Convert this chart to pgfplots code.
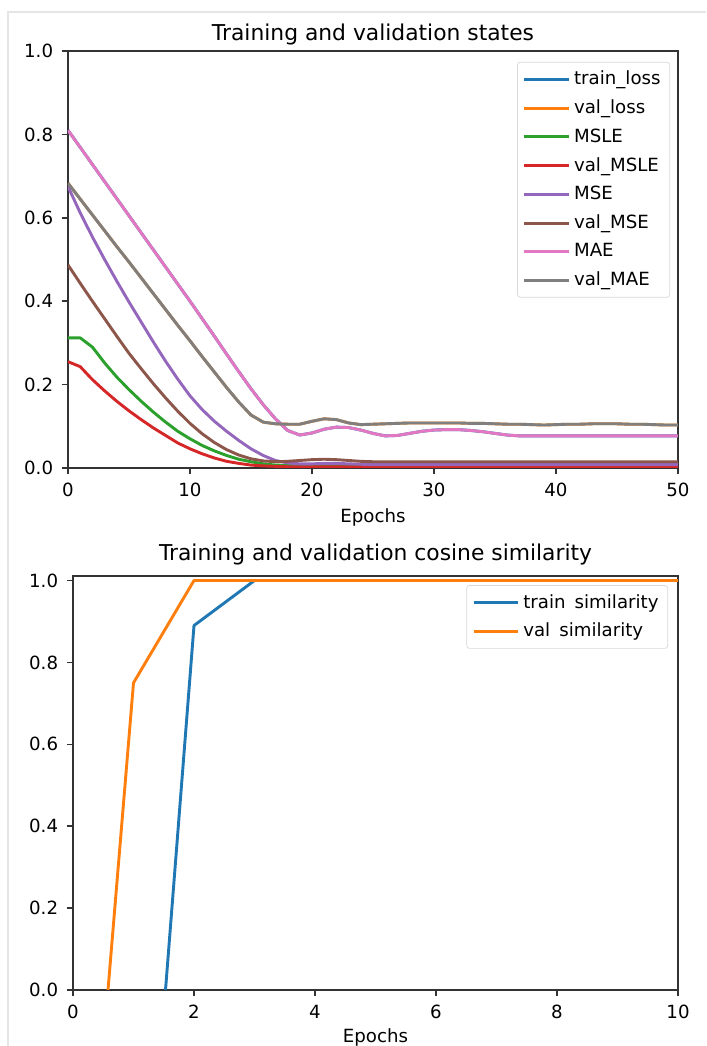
\documentclass[border=0pt]{standalone}
\usepackage{fontspec}
\setmainfont{DejaVu Sans}
\usepackage{pgfplots}
\pgfplotsset{compat=1.18}
\usepackage{pgfplotstable}

\definecolor{C0}{HTML}{1F77B4}
\definecolor{C1}{HTML}{FF7F0E}
\definecolor{C2}{HTML}{2CA02C}
\definecolor{C3}{HTML}{D62728}
\definecolor{C4}{HTML}{9467BD}
\definecolor{C5}{HTML}{8C564B}
\definecolor{C6}{HTML}{E377C2}
\definecolor{C7}{HTML}{7F7F7F}

\pgfplotstableread{
ep  mae    vmae   msle   vmsle  mse    vmse
0   0.810  0.683  0.312  0.255  0.675  0.487
1   0.769  0.645  0.312  0.243  0.612  0.443
2   0.728  0.607  0.290  0.212  0.554  0.400
3   0.687  0.569  0.252  0.185  0.500  0.358
4   0.646  0.531  0.218  0.160  0.448  0.316
5   0.605  0.494  0.188  0.137  0.398  0.275
6   0.564  0.456  0.160  0.116  0.350  0.238
7   0.523  0.418  0.134  0.096  0.302  0.202
8   0.482  0.380  0.110  0.078  0.256  0.168
9   0.441  0.342  0.088  0.060  0.213  0.136
10  0.400  0.305  0.070  0.046  0.173  0.107
11  0.358  0.267  0.054  0.034  0.140  0.082
12  0.316  0.230  0.041  0.024  0.112  0.061
13  0.273  0.193  0.030  0.016  0.088  0.044
14  0.231  0.158  0.021  0.011  0.066  0.031
15  0.190  0.127  0.015  0.007  0.046  0.022
16  0.152  0.110  0.010  0.005  0.030  0.017
17  0.118  0.106  0.007  0.004  0.018  0.015
18  0.090  0.105  0.006  0.003  0.012  0.016
19  0.079  0.105  0.006  0.003  0.010  0.018
20  0.084  0.112  0.006  0.003  0.010  0.020
21  0.093  0.118  0.006  0.003  0.011  0.021
22  0.098  0.116  0.006  0.003  0.011  0.020
23  0.097  0.108  0.005  0.003  0.010  0.018
24  0.091  0.104  0.005  0.003  0.009  0.016
25  0.083  0.105  0.005  0.003  0.008  0.015
26  0.077  0.106  0.005  0.003  0.008  0.015
27  0.078  0.107  0.005  0.003  0.008  0.015
28  0.083  0.108  0.005  0.003  0.008  0.015
29  0.088  0.108  0.005  0.003  0.008  0.015
30  0.091  0.108  0.005  0.003  0.008  0.015
31  0.092  0.108  0.005  0.003  0.008  0.015
32  0.092  0.108  0.005  0.003  0.008  0.015
33  0.090  0.107  0.005  0.003  0.008  0.015
34  0.087  0.107  0.005  0.003  0.008  0.015
35  0.083  0.106  0.005  0.003  0.008  0.015
36  0.079  0.105  0.005  0.003  0.008  0.015
37  0.077  0.105  0.005  0.003  0.008  0.015
38  0.077  0.104  0.005  0.003  0.008  0.015
39  0.077  0.103  0.005  0.003  0.008  0.015
40  0.077  0.104  0.005  0.003  0.008  0.015
41  0.077  0.105  0.005  0.003  0.008  0.015
42  0.077  0.105  0.005  0.003  0.008  0.015
43  0.077  0.106  0.005  0.003  0.008  0.015
44  0.077  0.106  0.005  0.003  0.008  0.015
45  0.077  0.106  0.005  0.003  0.008  0.015
46  0.077  0.105  0.005  0.003  0.008  0.015
47  0.077  0.105  0.005  0.003  0.008  0.015
48  0.077  0.104  0.005  0.003  0.008  0.015
49  0.077  0.103  0.005  0.003  0.008  0.015
50  0.077  0.103  0.005  0.003  0.008  0.015
}\states

\pgfplotstableread{
ep  tsim   vsim
0   -1.00  -1.03
1   -1.00   0.75
2    0.89   1.00
3    1.00   1.00
4    1.00   1.00
5    1.00   1.00
6    1.00   1.00
7    1.00   1.00
8    1.00   1.00
9    1.00   1.00
10   1.00   1.00
}\cosine

\pgfplotsset{
  mplstyle/.style={
    scale only axis,
    axis line style={black!80, line width=0.8pt},
    tick style={black!80, line width=0.8pt},
    tick align=outside,
    major tick length=3.5pt,
    xtick pos=bottom, ytick pos=left,
    ticklabel style={font=\fontsize{10}{12}\selectfont},
    /pgf/number format/assume math mode=true,
    yticklabel style={/pgf/number format/fixed, /pgf/number format/fixed zerofill, /pgf/number format/precision=1},
    xticklabel style={anchor=base, yshift=-12.2pt, inner sep=0pt},
    yticklabel style={anchor=east, inner sep=0pt, xshift=-4.5pt},
    every axis title/.style={at={(0.5,1)}, anchor=base, font=\fontsize{12}{14}\selectfont},
    every axis x label/.style={at={(0.5,0)}, anchor=base, font=\fontsize{10}{12}\selectfont},
    legend cell align=left,
    legend style={font=\fontsize{10}{12}\selectfont, draw=black!15, rounded corners=1.5pt,
      inner xsep=3pt, inner ysep=2.8pt, row sep=2.8pt},
    legend image code/.code={\path (0pt,0pt) -- (24.5pt,0pt);
      \draw[##1, line width=1.5pt] (0pt,0pt) -- (21.5pt,0pt);},
    every axis plot/.append style={line width=1.6pt, line join=round},
  }
}

\begin{document}
\begin{tikzpicture}
\path[use as bounding box] (0,0) rectangle (388.3pt,575.3pt);
\draw[black!10, line width=0.6pt] (4.4pt,0pt) -- (4.4pt,568.7pt) -- (388.3pt,568.7pt);

\begin{axis}[mplstyle,
  at={(37.4pt,317.9pt)}, anchor=south west,
  width=335.5pt, height=229.35pt,
  xmin=0, xmax=50, ymin=0, ymax=1,
  xtick={0,10,20,30,40,50},
  ytick={0,0.2,0.4,0.6,0.8,1.0},
  title={Training and validation states},
  title style={yshift=6pt},
  xlabel={Epochs},
  xlabel style={yshift=-30pt},
  legend style={at={(0.987,0.974)}, anchor=north east},
]
\addplot[C0] table[x=ep, y=mae] {\states};
\addlegendentry{train\_loss}
\addplot[C1] table[x=ep, y=vmae] {\states};
\addlegendentry{val\_loss}
\addplot[C2] table[x=ep, y=msle] {\states};
\addlegendentry{MSLE}
\addplot[C3] table[x=ep, y=vmsle] {\states};
\addlegendentry{val\_MSLE}
\addplot[C4] table[x=ep, y=mse] {\states};
\addlegendentry{MSE}
\addplot[C5] table[x=ep, y=vmse] {\states};
\addlegendentry{val\_MSE}
\addplot[C6] table[x=ep, y=mae] {\states};
\addlegendentry{MAE}
\addplot[C7] table[x=ep, y=vmae] {\states};
\addlegendentry{val\_MAE}
\end{axis}

\begin{axis}[mplstyle,
  at={(40.15pt,30.8pt)}, anchor=south west,
  width=332.75pt, height=227.7pt,
  xmin=0, xmax=10, ymin=0, ymax=1.011,
  xtick={0,2,4,6,8,10},
  ytick={0,0.2,0.4,0.6,0.8,1.0},
  title={Training and validation cosine similarity},
  title style={yshift=8.5pt},
  xlabel={Epochs},
  xlabel style={yshift=-28.9pt},
  legend style={at={(0.9835,0.978)}, anchor=north east},
]
\addplot[C0] table[x=ep, y=tsim] {\cosine};
\addlegendentry{train\hspace{0.5em}similarity}
\addplot[C1] table[x=ep, y=vsim] {\cosine};
\addlegendentry{val\hspace{0.5em}similarity}
\end{axis}
\end{tikzpicture}
\end{document}
